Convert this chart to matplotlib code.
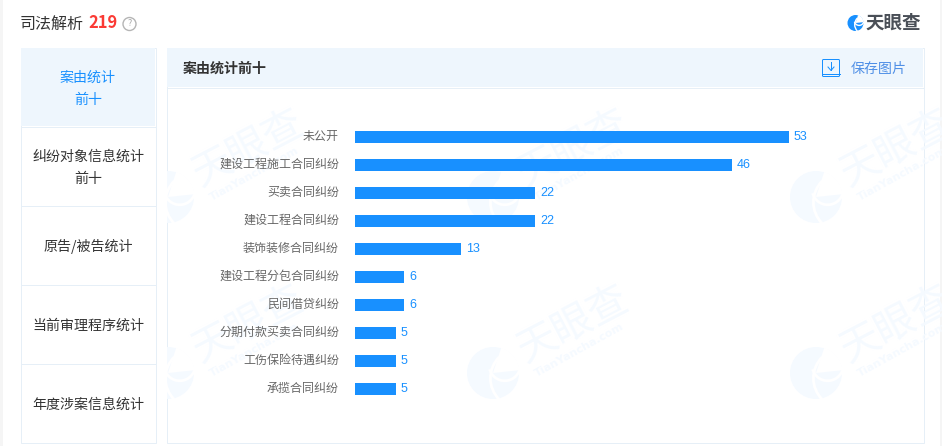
import matplotlib
matplotlib.use('Agg')
import matplotlib.pyplot as plt
from matplotlib.patches import Rectangle, Circle, Wedge, FancyBboxPatch, Arc
from matplotlib.transforms import ScaledTranslation

plt.rcParams['font.family'] = ['Noto Sans CJK SC', 'DejaVu Sans']

categories = ['未公开', '建设工程施工合同纠纷', '买卖合同纠纷', '建设工程合同纠纷', '装饰装修合同纠纷',
              '建设工程分包合同纠纷', '民间借贷纠纷', '分期付款买卖合同纠纷', '工伤保险待遇纠纷', '承揽合同纠纷']
values = [53, 46, 22, 22, 13, 6, 6, 5, 5, 5]
tabs = [['案由统计', '前十'], ['纠纷对象信息统计', '前十'], ['原告/被告统计'], ['当前审理程序统计'], ['年度涉案信息统计']]

W, H = 942, 446
BORDER = '#e6eff7'
HEAD = '#eef6fd'
BLUE = '#1890ff'
MARK = '#f5faff'
px = 0.72  # px to pt at dpi 100
LW = 0.72  # one pixel

fig = plt.figure(figsize=(W / 100, H / 100), dpi=100, facecolor='white')
bg = fig.add_axes([0, 0, 1, 1], zorder=0)
bg.set_xlim(0, W); bg.set_ylim(H, 0); bg.axis('off')

# page edges
bg.add_patch(Rectangle((0, 0), 3, H, fc='#f5f5f5', ec='none'))
bg.add_patch(Rectangle((940, 0), 2, H, fc='#f5f5f5', ec='none'))

# title row
bg.text(20, 24, '司法解析', fontsize=16 * px, color='#333333', va='center', ha='left', fontweight='medium')
bg.text(88, 23.5, '219', fontsize=16.5 * px, color='#fb3a34', va='center', ha='left', fontweight='bold')
bg.add_patch(Circle((129.5, 24), 6.5, fc='none', ec='#b5b5b5', lw=1))
bg.text(129.5, 24, '?', fontsize=9 * px, color='#a8a8a8', va='center', ha='center')


def logo(cx, cy, r, color, lw, zorder, clip=None):
    parts = [
        Circle((cx, cy), r, fc=color, ec='none', zorder=zorder),
        Wedge((cx, cy), r * 1.03, -72, -6, fc='white', ec='none', zorder=zorder),
        Arc((cx + r * 1.05, cy + r * 0.2), r * 2.3, r * 2.3, theta1=135, theta2=225,
            ec='white', lw=lw, zorder=zorder),
        Arc((cx + r * 0.45, cy - r * 0.3), r * 1.2, r * 1.2, theta1=15, theta2=165,
            ec='white', lw=lw, zorder=zorder),
    ]
    for p in parts:
        bg.add_patch(p)
        if clip is not None:
            p.set_clip_path(clip)


# header logo
logo(855.5, 23, 8, BLUE, 1.0, 3)
bg.text(921, 23, '天眼查', fontsize=18.5 * px, color='#4a4f57', va='center', ha='right', fontweight='bold')

# left tabs
bg.add_patch(Rectangle((20.5, 47.5), 135, 395, fc='white', ec=BORDER, lw=LW))
bg.add_patch(Rectangle((21, 48), 134, 78, fc=HEAD, ec='none'))
for y in (126.5, 205.5, 284.5, 363.5):
    bg.plot([21, 155], [y, y], color=BORDER, lw=LW)
tab_y = [88.5, 167.5, 246, 325.5, 404.5]
for i, (lines, y) in enumerate(zip(tabs, tab_y)):
    start = y - 11 * (len(lines) - 1)
    for k, t in enumerate(lines):
        bg.text(88, start + 22 * k, t, fontsize=14 * px, color=BLUE if i == 0 else '#333333',
                va='center', ha='center')

# right panel
panel = Rectangle((166.5, 47.5), 757, 395, fc='white', ec=BORDER, lw=LW)
bg.add_patch(panel)
bg.add_patch(Rectangle((167, 48), 756, 39, fc=HEAD, ec='none'))
bg.plot([167, 923], [87.5, 87.5], color=BORDER, lw=LW)
bg.text(183, 69, '案由统计前十', fontsize=14 * px, color='#333333', va='center', ha='left', fontweight='bold')
bg.text(907, 69, '保存图片', fontsize=14 * px, color='#4f8fe6', va='center', ha='right')
# download icon
bg.add_patch(FancyBboxPatch((822.5, 59.5), 17, 17, boxstyle='round,pad=0,rounding_size=1', fc='none', ec=BLUE, lw=LW))
bg.plot([822.5, 839.5], [73.5, 73.5], color=BLUE, lw=LW)
bg.plot([831, 831], [62, 70], color=BLUE, lw=LW)
bg.plot([828, 831, 834], [67, 70.5, 67], color=BLUE, lw=LW)

# watermarks, cut off at the panel edge
clip = Rectangle((167, 88), 756, 354, transform=bg.transData)
for cx, cy in [(168, 197), (493, 197), (816, 197), (168, 373), (493, 373), (816, 373)]:
    logo(cx, cy, 26, MARK, 2.0, 1, clip=clip)
    t = bg.text(cx + 80, cy - 49, '天眼查', fontsize=40 * px, color=MARK, rotation=27.5,
                rotation_mode='anchor', va='center', ha='center', zorder=1)
    t.set_clip_path(clip)
    t = bg.text(cx + 42, cy + 1, 'TianYancha.com', fontsize=11 * px, color=MARK, rotation=29,
                rotation_mode='anchor', va='center', ha='left', fontweight='bold',
                family='DejaVu Sans', zorder=1)
    t.set_clip_path(clip)

# bar chart
x0, x1 = 355, 789
top, bottom = 123, 403  # ten 28px bands
ax = fig.add_axes([x0 / W, 1 - bottom / H, (x1 - x0) / W, (bottom - top) / H], zorder=2)
ax.patch.set_alpha(0)
y = list(range(len(categories)))
ax.barh(y, values, height=12 / 28, color=BLUE)
ax.set_xlim(0, max(values))
ax.set_ylim(len(categories) - 0.5, -0.5)
ax.set_yticks(y, categories)
ax.set_xticks([])
ax.tick_params(axis='y', length=0, pad=11.5, labelsize=12 * px, labelcolor='#666666')
shift = ScaledTranslation(0, 2.2 / 100, fig.dpi_scale_trans)
for lab in ax.get_yticklabels():
    lab.set_transform(lab.get_transform() + shift)
for s in ax.spines.values():
    s.set_visible(False)
for yi, v in zip(y, values):
    ax.annotate(str(v), (v, yi), xytext=(3.6, 0.2), textcoords='offset points', va='center', ha='left',
                fontsize=12.5 * px, color=BLUE, annotation_clip=False, family='Liberation Sans')

fig.savefig('out.png', dpi=100)
